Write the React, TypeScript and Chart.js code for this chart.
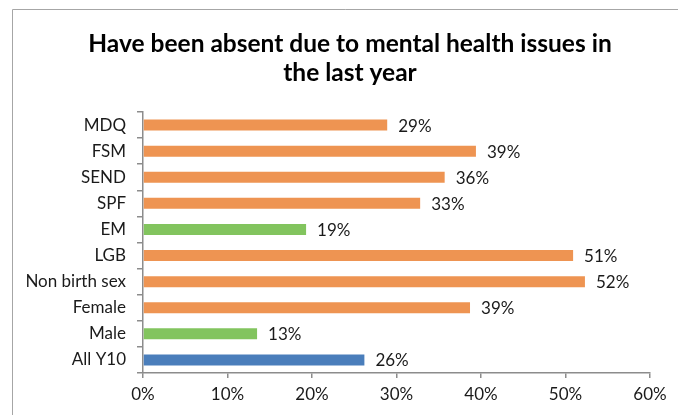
import React, { useEffect, useRef } from "react";
import { Chart, registerables } from "chart.js";

Chart.register(...registerables);

const TITLE_LINES = ["Have been absent due to mental health issues in", "the last year"];
const CATEGORIES = ["MDQ", "FSM", "SEND", "SPF", "EM", "LGB", "Non birth sex", "Female", "Male", "All Y10"];
const VALUES = [28.9, 39.4, 35.7, 32.8, 19.3, 50.9, 52.3, 38.7, 13.5, 26.2];
const LABELS = ["29%", "39%", "36%", "33%", "19%", "51%", "52%", "39%", "13%", "26%"];
const GROUPS = ["sub", "sub", "sub", "sub", "low", "sub", "sub", "sub", "low", "all"];
const X_TICKS = [0, 10, 20, 30, 40, 50, 60];

const ORANGE = "#EE9452";
const GREEN = "#82C45E";
const BLUE = "#4A7EBB";
const AXIS = "#8c8c8c";
const FONT = "Lato, 'Open Sans', sans-serif";

export default function App() {
  const ref = useRef<HTMLCanvasElement | null>(null);

  useEffect(() => {
    const canvas = ref.current;
    if (!canvas) return;
    const colors = GROUPS.map((g) => (g === "sub" ? ORANGE : g === "low" ? GREEN : BLUE));

    const decor = {
      id: "decor",
      beforeDraw(chart: any) {
        const ctx = chart.ctx;
        ctx.save();
        ctx.fillStyle = "#ffffff";
        ctx.fillRect(0, 0, chart.width, chart.height);
        ctx.strokeStyle = "#a6a6a6";
        ctx.lineWidth = 1;
        ctx.beginPath();
        ctx.moveTo(12.5, chart.height + 5);
        ctx.lineTo(12.5, 9.5);
        ctx.lineTo(chart.width + 5, 9.5);
        ctx.stroke();
        ctx.fillStyle = "#000000";
        ctx.font = "bold 24.5px " + FONT;
        ctx.textAlign = "center";
        ctx.textBaseline = "middle";
        ctx.fillText(TITLE_LINES[0], 350, 44);
        ctx.fillText(TITLE_LINES[1], 350, 73);
        ctx.restore();
      },
      afterDatasetsDraw(chart: any) {
        const ctx = chart.ctx;
        const meta = chart.getDatasetMeta(0);
        ctx.save();
        ctx.fillStyle = "#1a1a1a";
        ctx.font = "17px " + FONT;
        ctx.textAlign = "left";
        ctx.textBaseline = "middle";
        meta.data.forEach((bar: any, i: number) => {
          ctx.fillText(LABELS[i], bar.x + 11, bar.y + 1);
        });
        ctx.restore();
      },
    };

    const chart = new Chart(canvas, {
      type: "bar",
      data: {
        labels: CATEGORIES,
        datasets: [
          {
            data: VALUES,
            backgroundColor: colors,
            categoryPercentage: 0.42,
            barPercentage: 1,
          },
        ],
      },
      options: {
        indexAxis: "y",
        responsive: false,
        animation: false,
        layout: { padding: { top: 112, left: 0, right: 28, bottom: 0 } },
        plugins: {
          legend: { display: false },
          title: { display: false },
          tooltip: { enabled: false },
        },
        scales: {
          x: {
            min: 0,
            max: 60,
            afterBuildTicks(scale: any) {
              scale.ticks = X_TICKS.map((v) => ({ value: v }));
            },
            afterFit(scale: any) {
              scale.height = 42;
            },
            border: { display: true, color: AXIS, width: 1.5 },
            grid: { display: true, drawOnChartArea: false, drawTicks: true, tickLength: 5, color: AXIS, lineWidth: 1.5 },
            ticks: {
              color: "#1a1a1a",
              font: { family: FONT, size: 17 },
              padding: 6,
              maxRotation: 0,
              callback: (v: any) => v + "%",
            },
          },
          y: {
            afterFit(scale: any) {
              scale.width = 143;
            },
            border: { display: true, color: AXIS, width: 1.5 },
            grid: { display: true, drawOnChartArea: false, drawTicks: true, tickLength: 6, color: AXIS, lineWidth: 1.5, offset: true },
            ticks: {
              color: "#1a1a1a",
              font: { family: FONT, size: 17 },
              padding: 11,
              autoSkip: false,
            },
          },
        },
      },
      plugins: [decor],
    });
    return () => chart.destroy();
  }, []);

  return (
    <canvas
      ref={ref}
      width={678}
      height={415}
      style={{ position: "fixed", left: 0, top: 0, width: 678, height: 415 }}
    />
  );
}
